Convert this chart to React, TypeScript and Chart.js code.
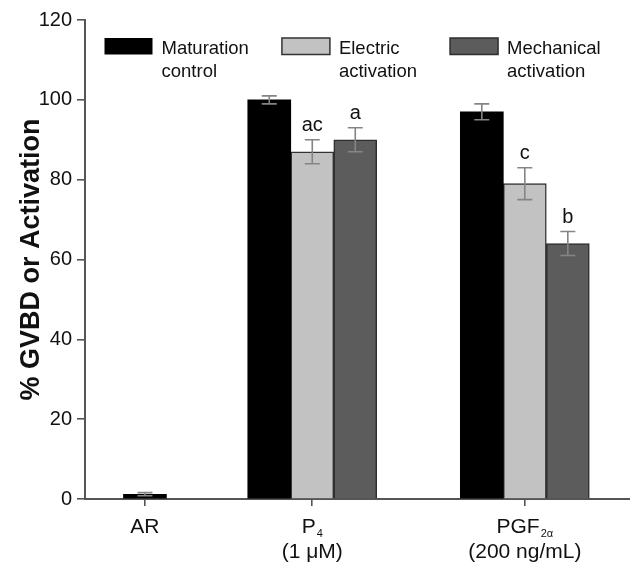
import React, { useEffect, useRef } from 'react';
import { Chart, registerables } from 'chart.js';

Chart.register(...registerables);

// ---------- data ----------
const categories = ['AR', 'P4 (1 μM)', 'PGF2α (200 ng/mL)'];
const labelMain = ['AR', 'P', 'PGF'];
const labelSub = ['', '4', '2α'];
const labelNote = ['', '(1 μM)', '(200 ng/mL)'];

const seriesNames = ['Maturation\ncontrol', 'Electric\nactivation', 'Mechanical\nactivation'];

const maturation = [1.2, 100, 97];
const maturationErr = [0.4, 1, 2];
const electric = [null, 87, 79];
const electricErr = [null, 3, 4];
const mechanical = [null, 90, 64];
const mechanicalErr = [null, 3, 3];

const maturationLetters = ['', '', ''];
const electricLetters = ['', 'ac', 'c'];
const mechanicalLetters = ['', 'a', 'b'];

const yMin = 0;
const yMax = 120;
const yStep = 20;
const yTitle = '% GVBD or Activation';

// ---------- layout / style ----------
const groupCenters = [11, 41.7, 80.7]; // positions of the groups along a 0-100 axis
const FONT = "'Liberation Sans', Arial, sans-serif";
const AXIS = '#555555';
const colors = ['#000000', '#c2c2c2', '#5c5c5c'];
const borders = ['#000000', '#333333', '#2e2e2e'];

const values = [maturation, electric, mechanical];
const errors = [maturationErr, electricErr, mechanicalErr];
const letters = [maturationLetters, electricLetters, mechanicalLetters];

const errorBarPlugin = {
  id: 'errorBars',
  afterDatasetsDraw(chart: any) {
    const { ctx } = chart;
    const y = chart.scales.y;
    ctx.save();
    chart.data.datasets.forEach((ds: any, di: number) => {
      const meta = chart.getDatasetMeta(di);
      meta.data.forEach((el: any, i: number) => {
        const v = values[di][i];
        const e = errors[di][i];
        if (v == null || e == null) return;
        const top = y.getPixelForValue(v + e);
        const bot = y.getPixelForValue(v - e);
        ctx.strokeStyle = '#858585';
        ctx.lineWidth = 1.6;
        ctx.beginPath();
        ctx.moveTo(el.x, top);
        ctx.lineTo(el.x, bot);
        ctx.moveTo(el.x - 7.5, top);
        ctx.lineTo(el.x + 7.5, top);
        ctx.moveTo(el.x - 7.5, bot);
        ctx.lineTo(el.x + 7.5, bot);
        ctx.stroke();
        const t = letters[di][i];
        if (t) {
          ctx.fillStyle = '#111';
          ctx.font = `20px ${FONT}`;
          ctx.textAlign = 'center';
          ctx.textBaseline = 'alphabetic';
          ctx.fillText(t, el.x, top - 9);
        }
      });
    });
    ctx.restore();
  },
};

const xLabelPlugin = {
  id: 'xLabels',
  afterDraw(chart: any) {
    const { ctx } = chart;
    const x = chart.scales.x;
    const base = chart.chartArea.bottom;
    ctx.save();
    ctx.fillStyle = '#111';
    ctx.textBaseline = 'alphabetic';
    categories.forEach((_, i) => {
      const cx = x.getPixelForValue(groupCenters[i]);
      const mainFont = `21px ${FONT}`;
      const subFont = `11px ${FONT}`;
      ctx.font = mainFont;
      const mw = ctx.measureText(labelMain[i]).width;
      ctx.font = subFont;
      const sw = labelSub[i] ? ctx.measureText(labelSub[i]).width + 1 : 0;
      const start = cx - (mw + sw) / 2;
      ctx.textAlign = 'left';
      ctx.font = mainFont;
      ctx.fillText(labelMain[i], start, base + 34);
      if (labelSub[i]) {
        ctx.font = subFont;
        ctx.fillText(labelSub[i], start + mw + 1, base + 38);
      }
      if (labelNote[i]) {
        ctx.font = mainFont;
        ctx.textAlign = 'center';
        ctx.fillText(labelNote[i], cx, base + 59);
      }
    });
    ctx.restore();
  },
};

const legendPlugin = {
  id: 'customLegend',
  afterDraw(chart: any) {
    const { ctx } = chart;
    const area = chart.chartArea;
    ctx.save();
    ctx.font = `18.5px ${FONT}`;
    ctx.textBaseline = 'alphabetic';
    ctx.textAlign = 'left';
    let xPos = area.left + 19.5;
    const boxW = 48;
    const boxH = 16.5;
    const baseY = area.top + 33.5;
    chart.data.datasets.forEach((ds: any, di: number) => {
      const lines = seriesNames[di].split('\n');
      ctx.fillStyle = colors[di];
      ctx.fillRect(xPos, baseY - boxH + 1, boxW, boxH);
      if (di > 0) {
        ctx.strokeStyle = borders[di];
        ctx.lineWidth = 1.5;
        ctx.strokeRect(xPos, baseY - boxH + 1, boxW, boxH);
      }
      ctx.fillStyle = '#111';
      let maxW = 0;
      lines.forEach((ln, li) => {
        ctx.fillText(ln, xPos + boxW + 9, baseY + li * 23);
        maxW = Math.max(maxW, ctx.measureText(ln).width);
      });
      xPos += boxW + 9 + maxW + 33;
    });
    ctx.restore();
  },
};

export default function App() {
  const ref = useRef<HTMLCanvasElement | null>(null);

  useEffect(() => {
    document.body.style.margin = '0';
    const canvas = ref.current;
    if (!canvas) return;
    const datasets = values.map((vals, di) => ({
      label: seriesNames[di].replace('\n', ' '),
      data: vals.map((v, i) => ({ x: groupCenters[i], y: v })),
      backgroundColor: colors[di],
      borderColor: borders[di],
      borderWidth: di === 0 ? 0 : 1.5,
      barThickness: 43,
      grouped: true,
      skipNull: true,
    }));

    const chart = new Chart(canvas, {
      type: 'bar',
      data: { datasets: datasets as any },
      options: {
        animation: false,
        responsive: false,
        maintainAspectRatio: false,
        layout: { padding: { top: 20, right: 0, bottom: 0, left: 0 } },
        plugins: {
          legend: { display: false },
          tooltip: { enabled: false },
        },
        scales: {
          x: {
            type: 'linear',
            min: 0,
            max: 100,
            offset: false,
            afterBuildTicks: (scale: any) => {
              scale.ticks = groupCenters.map((v) => ({ value: v }));
            },
            afterFit: (scale: any) => {
              scale.height = 68;
            },
            ticks: {
              callback: () => '',
              autoSkip: false,
              maxRotation: 0,
              font: { family: FONT, size: 21 },
            },
            grid: {
              offset: false,
              drawOnChartArea: false,
              drawTicks: true,
              tickLength: 7,
              color: AXIS,
              lineWidth: 1.6,
            },
            border: { display: true, color: AXIS, width: 2 },
          },
          y: {
            type: 'linear',
            min: yMin,
            max: yMax,
            afterFit: (scale: any) => {
              scale.width = 85;
            },
            ticks: {
              stepSize: yStep,
              padding: 5,
              color: '#111',
              font: { family: FONT, size: 20 },
            },
            grid: {
              drawOnChartArea: false,
              drawTicks: true,
              tickLength: 8,
              color: AXIS,
              lineWidth: 1.6,
            },
            border: { display: true, color: AXIS, width: 2 },
            title: {
              display: true,
              text: yTitle,
              color: '#111',
              font: { family: FONT, size: 27, weight: 'bold' },
              padding: { top: 15, bottom: 0 },
            },
          },
        },
      } as any,
      plugins: [errorBarPlugin, xLabelPlugin, legendPlugin],
    });
    return () => chart.destroy();
  }, []);

  return <canvas ref={ref} width={630} height={567} style={{ display: 'block' }} />;
}
